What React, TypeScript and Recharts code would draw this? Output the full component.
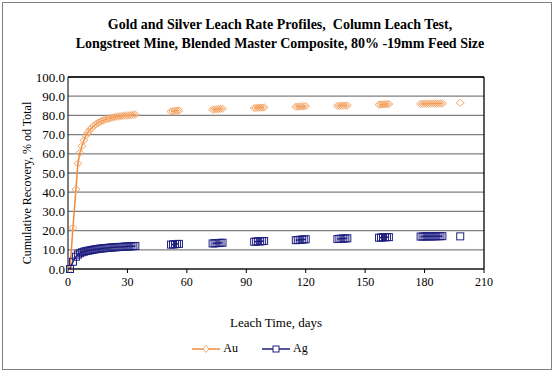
import React from "react";
import {
  ComposedChart,
  Line,
  XAxis,
  YAxis,
  CartesianGrid,
  ReferenceLine,
  Legend,
  Label,
} from "recharts";

const AU_COLOR = "#F08A3C";
const AU_MARK = "#F4A86A";
const AG_COLOR = "#1F1F80";
const FONT = "'Liberation Serif', 'Times New Roman', serif";

// leach days (null rows separate the sampling clusters so the line breaks)
const DAYS = [
  1, 2.5, 4, 5, 6, 7, 8, 9, 10, 11, 12, 13, 14, 15, 16, 17, 18, 19, 20, 21, 22, 23, 24, 25, 26, 27, 28, 29, 30, 31, 32, 33, 34,
  43,
  52, 53, 54, 55, 56,
  64,
  73, 74, 75, 76, 77, 78,
  86,
  94, 95, 96, 97, 98, 99,
  107,
  115, 116, 117, 118, 119, 120,
  128,
  136, 137, 138, 139, 140, 141,
  149,
  157, 158, 159, 160, 161, 162,
  170,
  178, 179, 180, 181, 182, 183, 184, 185, 186, 187, 188, 189,
  194,
  198,
];

const AU = [
  0, 21.5, 41.5, 55, 60.5, 64, 67, 69.5, 71, 72.5, 73.5, 74.5, 75.3, 76, 76.6, 77.1, 77.5, 77.9, 78.2, 78.5, 78.8, 79, 79.2, 79.4, 79.5, 79.7, 79.8, 79.9, 80, 80.1, 80.2, 80.3, 80.4,
  null,
  82.0, 82.2, 82.4, 82.5, 82.6,
  null,
  83.0, 83.1, 83.2, 83.3, 83.4, 83.5,
  null,
  83.8, 83.9, 84.0, 84.0, 84.1, 84.2,
  null,
  84.5, 84.6, 84.7, 84.7, 84.8, 84.9,
  null,
  84.9, 85.0, 85.0, 85.1, 85.1, 85.2,
  null,
  85.6, 85.7, 85.8, 85.8, 85.9, 85.9,
  null,
  86.0, 86.0, 86.1, 86.1, 86.1, 86.1, 86.1, 86.2, 86.2, 86.2, 86.2, 86.2,
  null,
  86.5,
];

const AG = [
  0, 3.8, 6.4, 7.5, 8.2, 8.7, 9.0, 9.3, 9.5, 9.7, 9.9, 10.1, 10.3, 10.4, 10.6, 10.7, 10.8, 10.9, 11.0, 11.1, 11.2, 11.3, 11.3, 11.4, 11.5, 11.5, 11.6, 11.7, 11.7, 11.8, 11.8, 11.9, 12.0,
  null,
  12.7, 12.8, 12.9, 13.0, 13.1,
  null,
  13.3, 13.4, 13.5, 13.5, 13.6, 13.7,
  null,
  14.2, 14.3, 14.4, 14.4, 14.5, 14.6,
  null,
  15.0, 15.1, 15.2, 15.3, 15.4, 15.5,
  null,
  15.6, 15.7, 15.8, 15.9, 15.9, 16.0,
  null,
  16.3, 16.4, 16.5, 16.5, 16.6, 16.6,
  null,
  16.9, 16.9, 17.0, 17.0, 17.0, 17.0, 17.0, 17.0, 17.1, 17.1, 17.1, 17.1,
  null,
  17.0,
];

const X_TICKS = [0, 30, 60, 90, 120, 150, 180, 210];
const Y_TICKS = [0, 10, 20, 30, 40, 50, 60, 70, 80, 90, 100];

const data = DAYS.map((d, i) => ({ day: d, au: AU[i], ag: AG[i] }));

function DiamondDot(props: any) {
  const { cx, cy, index } = props;
  if (cx == null || cy == null || props.value == null) return <g key={`d${index}`} />;
  return (
    <path
      key={`d${index}`}
      d={`M${cx},${cy - 3.5} L${cx + 4},${cy} L${cx},${cy + 3.5} L${cx - 4},${cy} Z`}
      fill="none"
      stroke={AU_MARK}
      strokeWidth={1}
    />
  );
}

function SquareDot(props: any) {
  const { cx, cy, index } = props;
  if (cx == null || cy == null || props.value == null) return <g key={`s${index}`} />;
  return (
    <rect key={`s${index}`} x={cx - 3.5} y={cy - 3.5} width={7} height={7} fill="none" stroke={AG_COLOR} strokeWidth={1} />
  );
}

function YTitle(props: any) {
  const vb = props.viewBox || {};
  const x = 27;
  const y = (vb.y ?? 77) + (vb.height ?? 192) / 2 + 10;
  return (
    <text
      x={x}
      y={y}
      transform={`rotate(-90 ${x} ${y})`}
      textAnchor="middle"
      dominantBaseline="central"
      style={{ fill: "#000", fontSize: 12, fontFamily: FONT }}
    >
      Cumulative Recovery, % od Total
    </text>
  );
}

function LegendBox() {
  return (
    <div style={{ display: "flex", justifyContent: "center", gap: 24, fontFamily: FONT, fontSize: 12, color: "#000", paddingLeft: 2 }}>
      <span style={{ display: "flex", alignItems: "center", gap: 3 }}>
        <svg width={28} height={10}>
          <line x1={0} y1={5} x2={28} y2={5} stroke={AU_COLOR} strokeWidth={1.5} />
          <path d="M14,1.5 L17,5 L14,8.5 L11,5 Z" fill="#fff" stroke={AU_MARK} />
        </svg>
        Au
      </span>
      <span style={{ display: "flex", alignItems: "center", gap: 3 }}>
        <svg width={28} height={10}>
          <line x1={0} y1={5} x2={28} y2={5} stroke={AG_COLOR} strokeWidth={1.5} />
          <rect x={11} y={2} width={6} height={6} fill="#fff" stroke={AG_COLOR} />
        </svg>
        Ag
      </span>
    </div>
  );
}

export default function App() {
  return (
    <div style={{ position: "absolute", left: 0, top: 0, width: 554, height: 373, background: "#fff" }}>
      <div
        style={{
          position: "absolute",
          left: 2,
          top: 2,
          width: 548,
          height: 366,
          border: "1px solid #7f7f7f",
        }}
      />
      <div
        style={{
          position: "absolute",
          left: 3,
          top: 15,
          width: 554,
          textAlign: "center",
          fontFamily: FONT,
          fontWeight: "bold",
          fontSize: 14,
          lineHeight: "19px",
          color: "#000",
        }}
      >
        Gold and Silver Leach Rate Profiles,&nbsp; Column Leach Test,
        <br />
        Longstreet Mine, Blended Master Composite, 80% -19mm Feed Size
      </div>
      <div style={{ position: "absolute", left: 0, top: 0 }}>
        <ComposedChart width={554} height={373} data={data} margin={{ top: 77, right: 70, bottom: 12, left: 14 }}>
          <CartesianGrid horizontal vertical={false} stroke="#808080" strokeWidth={1.3} />
          <XAxis
            dataKey="day"
            type="number"
            domain={[0, 210]}
            ticks={X_TICKS}
            interval={0}
            height={72}
            stroke="#000"
            tickSize={4}
            tickMargin={4}
            tick={{ fill: "#000", fontSize: 12, fontFamily: FONT }}
          >
            <Label value="Leach Time, days" position="insideBottom" offset={14} style={{ fill: "#000", fontSize: 13, fontFamily: FONT }} />
          </XAxis>
          <YAxis
            type="number"
            domain={[0, 100]}
            ticks={Y_TICKS}
            interval={0}
            width={54}
            stroke="#000"
            tickLine={false}
            tickSize={2}
            tickMargin={1}
            tickFormatter={(v: number) => v.toFixed(1)}
            tick={{ fill: "#000", fontSize: 13, fontFamily: FONT }}
          >
            <Label content={<YTitle />} />
          </YAxis>
          <ReferenceLine y={100} stroke="#000" strokeWidth={1.3} />
          <ReferenceLine x={210} stroke="#000" strokeWidth={1.3} />
          <Legend verticalAlign="bottom" height={20} content={() => <LegendBox />} />
          <Line
            dataKey="au"
            name="Au"
            type="linear"
            stroke={AU_COLOR}
            strokeWidth={1.5}
            dot={<DiamondDot />}
            connectNulls={false}
            isAnimationActive={false}
          />
          <Line
            dataKey="ag"
            name="Ag"
            type="linear"
            stroke={AG_COLOR}
            strokeWidth={1.5}
            dot={<SquareDot />}
            connectNulls={false}
            isAnimationActive={false}
          />
        </ComposedChart>
      </div>
    </div>
  );
}
